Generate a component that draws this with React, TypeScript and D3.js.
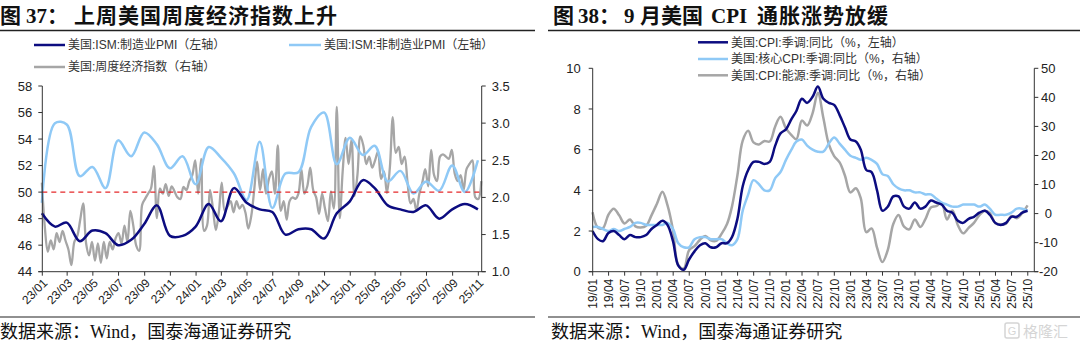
import React from 'react';
import * as d3 from 'd3';

// ---------- Chart 37 data ----------
const ismStart = '2022-12'; // monthly, plotted at month end
const ismManufacturing = [48.4, 47.4, 47.7, 46.3, 47.1, 46.9, 46.0, 46.4, 47.6, 49.0, 46.7, 46.7, 47.4, 49.1, 47.8, 50.3, 49.2, 48.7, 48.5, 46.8, 47.2, 47.2, 46.5, 48.4, 49.3, 50.9, 50.3, 49.0, 48.7, 48.5, 49.0, 48.0, 48.7, 49.1, 48.7];
const ismServices = [49.2, 55.2, 55.1, 51.2, 51.9, 50.3, 53.9, 52.7, 54.5, 53.6, 51.8, 52.7, 50.6, 53.4, 52.6, 51.4, 49.4, 53.8, 48.8, 51.4, 51.5, 54.9, 56.0, 52.1, 54.1, 52.8, 53.5, 50.8, 51.6, 49.9, 50.8, 50.1, 52.0, 50.0, 52.4];
const weiStart = '2022-12-31'; // weekly
const weeklyIndex = [
  2.2, 1.6, 1.27, 1.42, 1.30, 1.52, 1.40, 1.55, 1.42, 1.30,
  1.09, 1.40, 1.48, 1.70, 1.92, 1.38, 1.22, 1.40, 1.15, 1.38,
  1.12, 1.40, 1.18, 1.40, 1.30, 1.45, 1.52, 1.38, 1.62, 1.40,
  1.82, 1.62, 1.35, 1.28, 1.90, 1.98, 2.05, 2.12, 2.42, 1.72,
  2.12, 2.05, 2.18, 2.02, 2.15, 2.08, 2.00, 1.98, 2.14, 2.10,
  2.22, 2.30, 2.50, 2.05, 2.52, 1.55, 1.62, 2.10, 1.85, 1.56,
  1.80, 2.20, 1.82, 1.88, 1.95, 1.80, 1.95, 1.85, 1.90, 1.80,
  1.58, 1.75, 2.10, 2.48, 2.10, 2.38, 2.05, 2.25, 2.35, 2.05,
  2.70, 1.82, 1.95, 1.70, 1.95, 2.00, 1.98, 2.05, 2.38, 2.05,
  2.15, 2.40, 2.10, 2.00, 1.78, 2.05, 1.85, 1.68, 2.08, 1.85,
  3.22, 1.72, 2.35, 2.80, 2.45, 2.78, 2.02, 2.30, 2.82, 2.70,
  2.45, 2.55, 2.40, 2.50, 2.62, 2.25, 2.35, 2.06, 2.40, 3.08,
  2.60, 2.68, 2.45, 2.55, 2.20, 1.92, 1.98, 1.82, 2.05, 2.20,
  2.38, 2.15, 2.64, 2.30, 2.22, 2.55, 2.58, 2.55, 2.52, 2.64,
  2.32, 2.22, 2.30, 2.10, 2.38, 2.45, 2.50, 2.00, 1.98, 2.22,
];
const pmiTicks = [44, 46, 48, 50, 52, 54, 56, 58];
const weiTicks = [1.0, 1.5, 2.0, 2.5, 3.0, 3.5];
const pmiReference = 50;

// ---------- Chart 38 data ----------
const cpiStart = '2018-12';
const cpiHeadline = [2.0,
  1.6, 1.5, 1.9, 2.0, 1.8, 1.6, 1.8, 1.7, 1.7, 1.8, 2.1, 2.3,
  2.5, 2.3, 1.5, 0.3, 0.1, 0.6, 1.0, 1.3, 1.4, 1.2, 1.2, 1.4,
  1.4, 1.7, 2.6, 4.2, 5.0, 5.4, 5.4, 5.3, 5.4, 6.2, 6.8, 7.0,
  7.5, 7.9, 8.5, 8.3, 8.6, 9.1, 8.5, 8.3, 8.2, 7.7, 7.1, 6.5,
  6.4, 6.0, 5.0, 4.9, 4.0, 3.0, 3.2, 3.7, 3.7, 3.2, 3.1, 3.4,
  3.1, 3.2, 3.5, 3.4, 3.3, 3.0, 2.9, 2.5, 2.4, 2.6, 2.7, 2.9,
  3.0, 2.8, 2.4, 2.3, 2.4, 2.7, 2.7, 2.9, 3.0];
const cpiCore = [2.2,
  2.2, 2.1, 2.0, 2.1, 2.0, 2.1, 2.2, 2.4, 2.4, 2.3, 2.3, 2.3,
  2.3, 2.4, 2.1, 1.4, 1.2, 1.2, 1.6, 1.7, 1.7, 1.6, 1.6, 1.6,
  1.4, 1.3, 1.6, 3.0, 3.8, 4.5, 4.3, 4.0, 4.0, 4.6, 4.9, 5.5,
  6.0, 6.4, 6.5, 6.2, 6.0, 5.9, 5.9, 6.3, 6.6, 6.3, 6.0, 5.7,
  5.6, 5.5, 5.6, 5.5, 5.3, 4.8, 4.7, 4.3, 4.1, 4.0, 4.0, 3.9,
  3.9, 3.8, 3.8, 3.6, 3.4, 3.3, 3.2, 3.2, 3.3, 3.3, 3.3, 3.2,
  3.3, 3.1, 2.8, 2.8, 2.8, 2.9, 3.1, 3.1, 3.0];
const cpiEnergy = [0.5,
  -4.9, -5.0, -0.4, 1.7, -0.6, -3.4, -2.0, -4.4, -4.8, -4.2, -0.6, 3.4,
  7.5, 2.8, -5.7, -17.7, -18.9, -12.6, -11.2, -9.0, -7.7, -9.2, -9.4, -7.0,
  -3.6, 2.4, 13.2, 25.1, 28.5, 24.5, 23.8, 25.0, 24.8, 30.0, 33.3, 29.3,
  27.0, 25.6, 32.0, 30.3, 34.6, 41.6, 32.9, 23.8, 19.8, 17.6, 13.1, 7.3,
  8.7, 5.2, -6.4, -5.1, -11.7, -16.7, -12.5, -3.6, -0.5, -4.5, -5.4, -2.0,
  -4.6, -1.9, 2.1, 2.6, 3.7, -2.0, 1.1, -4.0, -6.8, -4.9, -3.2, -0.5,
  1.0, 0.2, -3.3, -3.7, -3.5, -0.8, -1.6, 0.2, 2.8];
const cpiLeftTicks = [0, 2, 4, 6, 8, 10];
const cpiRightTicks = [-20, -10, 0, 10, 20, 30, 40, 50];

// ---------- styles ----------
const C_NAVY = '#0c0c80';
const C_LIGHT = '#8fc9f6';
const C_GRAY = '#a6a6a6';
const C_RED = '#e5282a';
const AX = '#333';
const NUM_FONT = '"Liberation Sans", Arial, sans-serif';
const CJK_FONT = '"Liberation Sans", "Noto Sans CJK SC", sans-serif';
const TITLE_FONT = '"Liberation Serif", "Noto Sans CJK SC", serif';

function monthEnds(start: string, n: number): Date[] {
  const [y, m] = start.split('-').map(Number);
  return d3.range(n).map((i) => new Date(y, m - 1 + i + 1, 0));
}
function weeks(start: string, n: number): Date[] {
  const [y, m, d] = start.split('-').map(Number);
  const s = new Date(y, m - 1, d);
  return d3.range(n).map((i) => d3.timeDay.offset(s, 7 * i));
}

const B = 271.7;

function Chart37() {
  const L = 42.3, R = 481.7, T = 86;
  const x = d3.scaleTime().domain([new Date(2023, 0, 1), new Date(2025, 10, 9)]).range([L, R]);
  const yL = d3.scaleLinear().domain([44, 58]).range([B, T]);
  const yR = d3.scaleLinear().domain([1.0, 3.5]).range([B, T]);
  const mDates = monthEnds(ismStart, ismManufacturing.length);
  const wDates = weeks(weiStart, weeklyIndex.length);
  const lineM = d3.line<number>().x((_, i) => x(mDates[i])).y((v) => yL(v)).curve(d3.curveCatmullRom.alpha(0.5));
  const lineW = d3.line<number>().x((_, i) => x(wDates[i])).y((v) => yR(v)).curve(d3.curveCatmullRom.alpha(0.5));
  const xticks = d3.timeMonth.every(2)!.range(new Date(2023, 0, 1), new Date(2025, 10, 2));
  const fmt = d3.timeFormat('%y/%m');
  return (
    <g>
      <path d={lineW(weeklyIndex) || ''} fill="none" stroke={C_GRAY} strokeWidth={2.3} />
      <path d={lineM(ismServices) || ''} fill="none" stroke={C_LIGHT} strokeWidth={2.5} />
      <path d={lineM(ismManufacturing) || ''} fill="none" stroke={C_NAVY} strokeWidth={2.5} />
      <line x1={L} x2={R} y1={yL(pmiReference)} y2={yL(pmiReference)} stroke={C_RED} strokeWidth={1.3} strokeDasharray="5,4" />
      {/* axes */}
      <line x1={L} x2={L} y1={T} y2={B} stroke={AX} strokeWidth={1} />
      <line x1={R} x2={R} y1={T} y2={B} stroke={AX} strokeWidth={1} />
      <line x1={L - 4} x2={R + 4} y1={B} y2={B} stroke={AX} strokeWidth={1} />
      {pmiTicks.map((t) => (
        <g key={'l' + t}>
          <line x1={L - 4} x2={L} y1={yL(t)} y2={yL(t)} stroke={AX} />
          <text x={L - 10} y={yL(t)} dy="0.35em" textAnchor="end" fontSize={13} fontFamily={NUM_FONT} fill="#222">{t}</text>
        </g>
      ))}
      {weiTicks.map((t) => (
        <g key={'r' + t}>
          <line x1={R} x2={R + 4} y1={yR(t)} y2={yR(t)} stroke={AX} />
          <text x={R + 10} y={yR(t)} dy="0.35em" textAnchor="start" fontSize={13} fontFamily={NUM_FONT} fill="#222">{t.toFixed(1)}</text>
        </g>
      ))}
      {xticks.map((d) => (
        <g key={+d}>
          <line x1={x(d)} x2={x(d)} y1={B} y2={B + 4} stroke={AX} />
          <text transform={`translate(${x(d) + 3},${B + 9}) rotate(-45)`} dy="0.35em" textAnchor="end" fontSize={12} fontFamily={NUM_FONT} fill="#222">{fmt(d)}</text>
        </g>
      ))}
      {/* legend */}
      <line x1={34} x2={65} y1={45} y2={45} stroke={C_NAVY} strokeWidth={2.5} />
      <text x={68} y={45} dy="0.35em" fontSize={12} fontFamily={CJK_FONT} fill="#333">美国:ISM:制造业PMI（左轴）</text>
      <line x1={289} x2={321} y1={45} y2={45} stroke={C_LIGHT} strokeWidth={2.5} />
      <text x={324} y={45} dy="0.35em" fontSize={12} fontFamily={CJK_FONT} fill="#333">美国:ISM:非制造业PMI（左轴）</text>
      <line x1={34} x2={65} y1={67} y2={67} stroke={C_GRAY} strokeWidth={2.5} />
      <text x={68} y={67} dy="0.35em" fontSize={12} fontFamily={CJK_FONT} fill="#333">美国:周度经济指数（右轴）</text>
    </g>
  );
}

function Chart38() {
  const L = 592.7, R = 1034.3, T = 68.3;
  const x = d3.scaleTime().domain([new Date(2019, 0, 1), new Date(2025, 10, 7)]).range([L, R]);
  const yL = d3.scaleLinear().domain([0, 10]).range([B, T]);
  const yR = d3.scaleLinear().domain([-20, 50]).range([B, T]);
  const dates = monthEnds(cpiStart, cpiHeadline.length);
  const mk = (y: d3.ScaleLinear<number, number>) =>
    d3.line<number>().x((_, i) => x(dates[i])).y((v) => y(v)).curve(d3.curveCatmullRom.alpha(0.5));
  const xticks = d3.timeMonth.every(3)!.range(new Date(2019, 0, 1), new Date(2025, 9, 2));
  const fmt = d3.timeFormat('%y/%m');
  const legend = [
    { c: C_NAVY, t: '美国:CPI:季调:同比（%，左轴）', y: 42.3 },
    { c: C_LIGHT, t: '美国:核心CPI:季调:同比（%，右轴）', y: 59 },
    { c: C_GRAY, t: '美国:CPI:能源:季调:同比（%，右轴）', y: 75.3 },
  ];
  return (
    <g>
      <path d={mk(yR)(cpiEnergy) || ''} fill="none" stroke={C_GRAY} strokeWidth={2.5} />
      <path d={mk(yL)(cpiCore) || ''} fill="none" stroke={C_LIGHT} strokeWidth={2.5} />
      <path d={mk(yL)(cpiHeadline) || ''} fill="none" stroke={C_NAVY} strokeWidth={2.5} />
      <line x1={L} x2={L} y1={T} y2={B} stroke={AX} />
      <line x1={R} x2={R} y1={T} y2={B} stroke={AX} />
      <line x1={L - 4} x2={R + 4} y1={B} y2={B} stroke={AX} />
      {cpiLeftTicks.map((t) => (
        <g key={'l' + t}>
          <line x1={L - 4} x2={L} y1={yL(t)} y2={yL(t)} stroke={AX} />
          <text x={L - 12} y={yL(t)} dy="0.35em" textAnchor="end" fontSize={13} fontFamily={NUM_FONT} fill="#222">{t}</text>
        </g>
      ))}
      {cpiRightTicks.map((t) => (
        <g key={'r' + t}>
          <line x1={R} x2={R + 4} y1={yR(t)} y2={yR(t)} stroke={AX} />
          <text x={R + 14} y={yR(t)} dy="0.35em" textAnchor="middle" fontSize={13} fontFamily={NUM_FONT} fill="#222">{t}</text>
        </g>
      ))}
      {xticks.map((d) => (
        <g key={+d}>
          <line x1={x(d)} x2={x(d)} y1={B} y2={B + 4} stroke={AX} />
          <text transform={`translate(${x(d)},${B + 7}) rotate(-90)`} dy="0.35em" textAnchor="end" fontSize={12} fontFamily={NUM_FONT} fill="#222">{fmt(d)}</text>
        </g>
      ))}
      {legend.map((l) => (
        <g key={l.t}>
          <line x1={698} x2={728} y1={l.y} y2={l.y} stroke={l.c} strokeWidth={2.5} />
          <text x={731} y={l.y} dy="0.35em" fontSize={12} fontFamily={CJK_FONT} fill="#333">{l.t}</text>
        </g>
      ))}
    </g>
  );
}

export default function App() {
  return (
    <svg width={1080} height={344} style={{ position: 'absolute', left: 0, top: 0, background: '#fff' }}>
      <rect width={1080} height={344} fill="#fff" />
      {/* titles */}
      <text y={23} fontSize={21} fontWeight="bold" fontFamily={TITLE_FONT} fill="#111">
        <tspan x={0}>图</tspan>
        <tspan x={26}>37：</tspan>
        <tspan x={74} letterSpacing={1}>上周美国周度经济指数上升</tspan>
      </text>
      <line x1={0} x2={535} y1={30.5} y2={30.5} stroke="#222" strokeWidth={1.3} />
      <text y={23} fontSize={21} fontWeight="bold" fontFamily={TITLE_FONT} fill="#111">
        <tspan x={553}>图</tspan>
        <tspan x={578}>38：</tspan>
        <tspan x={624}>9</tspan>
        <tspan x={640}>月美国</tspan>
        <tspan x={711}>CPI</tspan>
        <tspan x={757} letterSpacing={1}>通胀涨势放缓</tspan>
      </text>
      <line x1={548} x2={1080} y1={30.5} y2={30.5} stroke="#222" strokeWidth={1.3} />
      <Chart37 />
      <Chart38 />
      {/* footers */}
      <line x1={0} x2={535} y1={317} y2={317} stroke="#222" strokeWidth={1.2} />
      <text x={0} y={338} fontSize={18} fontFamily={TITLE_FONT} fill="#111">数据来源：Wind，国泰海通证券研究</text>
      <line x1={548} x2={1080} y1={317} y2={317} stroke="#222" strokeWidth={1.2} />
      <text x={551} y={338} fontSize={18} fontFamily={TITLE_FONT} fill="#111">数据来源：Wind，国泰海通证券研究</text>
      <g opacity={0.35}>
        <rect x={1005} y={323} width={14} height={15} rx={2} fill="none" stroke="#888" strokeWidth={1.5} />
        <text x={1012} y={335} textAnchor="middle" fontSize={11} fontFamily={NUM_FONT} fill="#888">G</text>
        <text x={1023} y={337} fontSize={15} fontFamily='"Noto Sans CJK SC", sans-serif' fill="#888">格隆汇</text>
      </g>
    </svg>
  );
}
